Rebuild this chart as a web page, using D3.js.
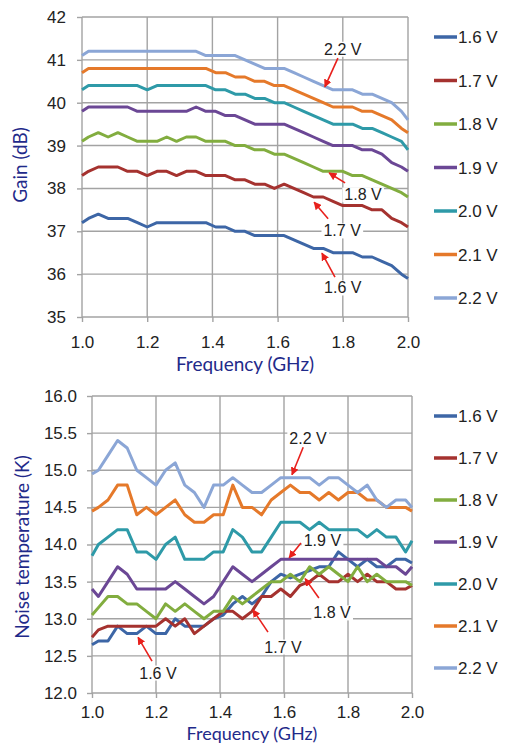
<!DOCTYPE html>
<html>
<head>
<meta charset="utf-8">
<script src="https://cdn.jsdelivr.net/npm/d3@7"></script>
<style>
  body { margin: 0; background: #fff; }
  .tick text { font-family: "Liberation Sans", Arial, sans-serif; fill: #222; }
  .legend text { font-family: "Liberation Sans", Arial, sans-serif; fill: #222; }
  .note { font-family: "Liberation Sans", Arial, sans-serif; fill: #222; font-size: 16px; }
  .title { font-family: Lato, "Open Sans", sans-serif; fill: #1f2a8a; }
</style>
</head>
<body>
<script>
var width = 508, height = 745;

// frequencies in GHz
var freq = [1.00, 1.02, 1.05, 1.08, 1.11, 1.14, 1.17, 1.20, 1.23, 1.26, 1.29, 1.32,
            1.35, 1.38, 1.41, 1.44, 1.47, 1.50, 1.53, 1.56, 1.59, 1.62, 1.65, 1.68,
            1.71, 1.74, 1.77, 1.80, 1.83, 1.86, 1.89, 1.92, 1.95, 1.98, 2.00];

var voltages = ["1.6 V", "1.7 V", "1.8 V", "1.9 V", "2.0 V", "2.1 V", "2.2 V"];
var colors = ["#3d66a6", "#a5322f", "#82ad3f", "#6b4795", "#2e9aa8", "#e5792a", "#8ba6d6"];

var xTicks = [1.0, 1.2, 1.4, 1.6, 1.8, 2.0];
var gainTicks = [35, 36, 37, 38, 39, 40, 41, 42];
var noiseTicks = [12.0, 12.5, 13.0, 13.5, 14.0, 14.5, 15.0, 15.5, 16.0];

// gain (dB)
var gain16 = [37.2, 37.3, 37.4, 37.3, 37.3, 37.3, 37.2, 37.1, 37.2, 37.2, 37.2, 37.2, 37.2, 37.2, 37.1, 37.1, 37.0, 37.0,
              36.9, 36.9, 36.9, 36.9, 36.8, 36.7, 36.6, 36.6, 36.5, 36.5, 36.5, 36.4, 36.4, 36.3, 36.2, 36.0, 35.9];
var gain17 = [38.3, 38.4, 38.5, 38.5, 38.5, 38.4, 38.4, 38.3, 38.4, 38.4, 38.3, 38.4, 38.4, 38.3, 38.3, 38.3, 38.2, 38.2,
              38.1, 38.1, 38.0, 38.1, 38.0, 37.9, 37.8, 37.8, 37.7, 37.6, 37.6, 37.6, 37.5, 37.5, 37.3, 37.2, 37.1];
var gain18 = [39.1, 39.2, 39.3, 39.2, 39.3, 39.2, 39.1, 39.1, 39.1, 39.2, 39.1, 39.2, 39.2, 39.1, 39.1, 39.1, 39.0, 39.0,
              38.9, 38.9, 38.8, 38.8, 38.7, 38.6, 38.5, 38.4, 38.4, 38.4, 38.3, 38.3, 38.2, 38.1, 38.0, 37.9, 37.8];
var gain19 = [39.8, 39.9, 39.9, 39.9, 39.9, 39.9, 39.8, 39.8, 39.8, 39.8, 39.8, 39.8, 39.9, 39.8, 39.8, 39.7, 39.7, 39.6,
              39.5, 39.5, 39.5, 39.5, 39.4, 39.3, 39.2, 39.1, 39.0, 39.0, 39.0, 38.9, 38.9, 38.8, 38.6, 38.5, 38.4];
var gain20 = [40.3, 40.4, 40.4, 40.4, 40.4, 40.4, 40.4, 40.3, 40.4, 40.4, 40.4, 40.4, 40.4, 40.4, 40.3, 40.3, 40.2, 40.2,
              40.1, 40.1, 40.0, 40.0, 39.9, 39.8, 39.7, 39.6, 39.5, 39.5, 39.5, 39.4, 39.4, 39.3, 39.2, 39.1, 38.9];
var gain21 = [40.7, 40.8, 40.8, 40.8, 40.8, 40.8, 40.8, 40.8, 40.8, 40.8, 40.8, 40.8, 40.8, 40.8, 40.7, 40.7, 40.6, 40.6,
              40.5, 40.5, 40.4, 40.4, 40.3, 40.2, 40.1, 40.0, 39.9, 39.9, 39.9, 39.8, 39.8, 39.7, 39.6, 39.4, 39.3];
var gain22 = [41.1, 41.2, 41.2, 41.2, 41.2, 41.2, 41.2, 41.2, 41.2, 41.2, 41.2, 41.2, 41.2, 41.1, 41.1, 41.1, 41.1, 41.0,
              40.9, 40.8, 40.8, 40.8, 40.7, 40.6, 40.5, 40.4, 40.3, 40.3, 40.3, 40.2, 40.2, 40.1, 40.0, 39.8, 39.6];

// noise temperature (K)
var noise16 = [12.65, 12.7, 12.7, 12.9, 12.8, 12.8, 12.9, 12.8, 12.8, 13.0, 12.9, 12.9, 12.9, 13.0, 13.05, 13.2, 13.3, 13.2,
               13.3, 13.5, 13.6, 13.55, 13.6, 13.65, 13.7, 13.7, 13.9, 13.8, 13.7, 13.8, 13.7, 13.7, 13.8, 13.8, 13.75];
var noise17 = [12.75, 12.85, 12.9, 12.9, 12.9, 12.9, 12.9, 12.9, 13.0, 12.9, 13.0, 12.8, 12.9, 13.0, 13.1, 13.1, 13.0, 13.1,
               13.3, 13.3, 13.4, 13.3, 13.45, 13.5, 13.6, 13.5, 13.5, 13.6, 13.5, 13.6, 13.5, 13.5, 13.4, 13.4, 13.45];
var noise18 = [13.05, 13.15, 13.3, 13.3, 13.2, 13.2, 13.1, 13.0, 13.2, 13.1, 13.2, 13.1, 13.0, 13.1, 13.1, 13.3, 13.2, 13.3,
               13.4, 13.5, 13.5, 13.6, 13.5, 13.7, 13.6, 13.7, 13.6, 13.5, 13.7, 13.5, 13.6, 13.5, 13.5, 13.5, 13.45];
var noise19 = [13.4, 13.3, 13.5, 13.7, 13.6, 13.4, 13.4, 13.4, 13.4, 13.5, 13.4, 13.3, 13.2, 13.3, 13.5, 13.7, 13.6, 13.5,
               13.6, 13.7, 13.8, 13.8, 13.8, 13.8, 13.8, 13.8, 13.8, 13.8, 13.8, 13.8, 13.8, 13.7, 13.7, 13.6, 13.7];
var noise20 = [13.85, 14.0, 14.1, 14.2, 14.2, 13.9, 13.9, 13.8, 14.0, 14.1, 13.8, 13.8, 13.8, 13.9, 13.9, 14.2, 14.1, 13.9,
               13.9, 14.1, 14.3, 14.3, 14.3, 14.2, 14.3, 14.2, 14.2, 14.2, 14.2, 14.1, 14.2, 14.1, 14.1, 13.9, 14.05];
var noise21 = [14.45, 14.5, 14.6, 14.8, 14.8, 14.4, 14.5, 14.4, 14.5, 14.6, 14.4, 14.3, 14.3, 14.4, 14.4, 14.8, 14.5, 14.5,
               14.4, 14.6, 14.7, 14.8, 14.7, 14.7, 14.6, 14.7, 14.6, 14.7, 14.7, 14.6, 14.6, 14.5, 14.5, 14.5, 14.45];
var noise22 = [14.95, 15.0, 15.2, 15.4, 15.3, 15.0, 14.9, 14.8, 15.0, 15.1, 14.8, 14.7, 14.5, 14.8, 14.8, 14.9, 14.8, 14.7,
               14.7, 14.8, 14.9, 14.9, 14.9, 14.9, 14.8, 14.9, 14.9, 14.8, 14.7, 14.8, 14.6, 14.5, 14.6, 14.6, 14.5];

// annotations: label, text position and arrow (start -> tip), in data units
var gainNotes = [
  { label: "2.2 V", tx: 1.80, ty: 41.25, x1: 1.785, y1: 41.04, x2: 1.745, y2: 40.37 },
  { label: "1.8 V", tx: 1.862, ty: 37.85, x1: 1.807, y1: 38.13, x2: 1.758, y2: 38.36 },
  { label: "1.7 V", tx: 1.798, ty: 37.01, x1: 1.755, y1: 37.29, x2: 1.712, y2: 37.68 },
  { label: "1.6 V", tx: 1.80, ty: 35.68, x1: 1.776, y1: 35.93, x2: 1.736, y2: 36.49 }
];
var noiseNotes = [
  { label: "2.2 V", tx: 1.675, ty: 15.43, x1: 1.66, y1: 15.31, x2: 1.625, y2: 14.94 },
  { label: "1.9 V", tx: 1.72, ty: 14.05, x1: 1.653, y1: 14.02, x2: 1.616, y2: 13.82 },
  { label: "1.8 V", tx: 1.75, ty: 13.08, x1: 1.709, y1: 13.28, x2: 1.666, y2: 13.54 },
  { label: "1.7 V", tx: 1.597, ty: 12.62, x1: 1.55, y1: 12.82, x2: 1.503, y2: 13.12 },
  { label: "1.6 V", tx: 1.206, ty: 12.27, x1: 1.1875, y1: 12.43, x2: 1.144, y2: 12.75 }
];

var svg = d3.select("body").append("svg")
      .attr("width", width)
      .attr("height", height);

svg.append("defs").append("marker")
      .attr("id", "arrow")
      .attr("viewBox", "0 0 10 10")
      .attr("refX", 9)
      .attr("refY", 5)
      .attr("markerWidth", 5)
      .attr("markerHeight", 5)
      .attr("orient", "auto")
      .append("path")
      .attr("d", "M0,0L10,5L0,10z")
      .attr("fill", "#e8201c");

function drawPanel(p) {
  var x = d3.scaleLinear().domain([1, 2]).range([p.left, p.right]);
  var y = d3.scaleLinear().domain(p.yDomain).range([p.bottom, p.top]);
  var g = svg.append("g");

  // grid
  g.selectAll(".hgrid").data(p.yTicks).enter().append("line")
        .attr("x1", p.left).attr("x2", p.right)
        .attr("y1", function (d) { return y(d); })
        .attr("y2", function (d) { return y(d); })
        .attr("stroke", "#a3a3a3").attr("stroke-width", 1.4);
  g.selectAll(".vgrid").data(xTicks).enter().append("line")
        .attr("y1", p.top).attr("y2", p.bottom)
        .attr("x1", function (d) { return x(d); })
        .attr("x2", function (d) { return x(d); })
        .attr("stroke", "#a3a3a3").attr("stroke-width", 1.4);

  // axes
  var yAxis = g.append("g")
        .attr("transform", "translate(" + p.left + ",0)")
        .call(d3.axisLeft(y).tickValues(p.yTicks).tickFormat(p.yFormat)
              .tickSize(5).tickPadding(p.yPad));
  var xAxis = g.append("g")
        .attr("transform", "translate(0," + p.bottom + ")")
        .call(d3.axisBottom(x).tickValues(xTicks).tickFormat(d3.format(".1f"))
              .tickSize(5).tickPadding(p.xPad));
  [yAxis, xAxis].forEach(function (a) {
    a.select(".domain").remove();
    a.selectAll(".tick line").attr("stroke", "#a3a3a3").attr("stroke-width", 1.4);
    a.selectAll(".tick text").style("font-size", "17px");
  });

  // series
  var line = d3.line()
        .x(function (d, i) { return x(freq[i]); })
        .y(function (d) { return y(d); });
  p.series.forEach(function (s, k) {
    g.append("path")
          .attr("d", line(s))
          .attr("fill", "none")
          .attr("stroke", colors[k])
          .attr("stroke-width", 3)
          .attr("stroke-linejoin", "round");
  });

  // annotations
  p.notes.forEach(function (n) {
    var t = g.append("text")
          .attr("class", "note")
          .attr("x", x(n.tx))
          .attr("y", y(n.ty))
          .attr("dy", "0.35em")
          .attr("text-anchor", "middle")
          .text(n.label);
    var b = t.node().getBBox();
    g.insert("rect", function () { return t.node(); })
          .attr("x", b.x - 2).attr("y", b.y + 1)
          .attr("width", b.width + 4).attr("height", b.height - 2)
          .attr("fill", "#fff");
    g.append("line")
          .attr("x1", x(n.x1)).attr("y1", y(n.y1))
          .attr("x2", x(n.x2)).attr("y2", y(n.y2))
          .attr("stroke", "#e8201c")
          .attr("stroke-width", 1.6)
          .attr("marker-end", "url(#arrow)");
  });

  // legend
  var leg = g.append("g").attr("class", "legend");
  voltages.forEach(function (v, k) {
    var ly = p.legendY + k * p.legendStep;
    leg.append("line")
          .attr("x1", 434).attr("x2", 457)
          .attr("y1", ly).attr("y2", ly)
          .attr("stroke", colors[k]).attr("stroke-width", 3.5);
    leg.append("text")
          .attr("x", 458).attr("y", ly)
          .attr("dy", "0.36em")
          .style("font-size", "17px")
          .text(v);
  });

  // axis titles
  g.append("text")
        .attr("class", "title")
        .attr("transform", "translate(" + p.yTitleX + "," + p.yTitleY + ") rotate(-90)")
        .attr("text-anchor", "middle")
        .style("font-size", "19px")
        .text(p.yTitle);
  g.append("text")
        .attr("class", "title")
        .attr("x", p.xTitleX)
        .attr("y", p.xTitleY)
        .attr("text-anchor", "middle")
        .style("font-size", p.xTitleSize)
        .text("Frequency (GHz)");
}

drawPanel({
  left: 82, right: 408, top: 17, bottom: 317,
  yDomain: [35, 42], yTicks: gainTicks, yFormat: d3.format("d"),
  yPad: 11, xPad: 14,
  series: [gain16, gain17, gain18, gain19, gain20, gain21, gain22],
  notes: gainNotes,
  legendY: 37, legendStep: 43.5,
  yTitle: "Gain (dB)", yTitleX: 27, yTitleY: 165,
  xTitleX: 245, xTitleY: 371, xTitleSize: "19px"
});

drawPanel({
  left: 92, right: 412, top: 396, bottom: 693,
  yDomain: [12, 16], yTicks: noiseTicks, yFormat: d3.format(".1f"),
  yPad: 10, xPad: 8,
  series: [noise16, noise17, noise18, noise19, noise20, noise21, noise22],
  notes: noiseNotes,
  legendY: 416, legendStep: 42,
  yTitle: "Noise temperature (K)", yTitleX: 29, yTitleY: 547,
  xTitleX: 252, xTitleY: 740, xTitleSize: "18px"
});
</script>
</body>
</html>
